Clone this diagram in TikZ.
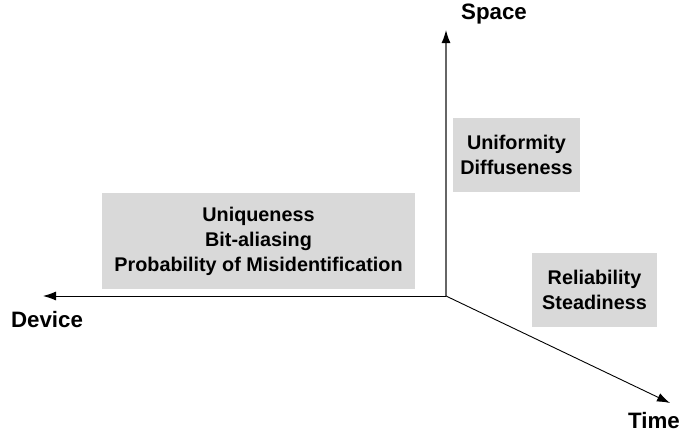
\documentclass[tikz,border=0pt]{standalone}
\usepackage{fontspec}
\setmainfont{Liberation Sans}
\usetikzlibrary{arrows.meta}

\begin{document}
\begin{tikzpicture}[x=1pt, y=-1pt,
                    every node/.style={inner sep=0pt},
                    axis/.style={line width=0.9pt,
                                 -{Latex[length=13pt,width=9pt,black]}},
                    axislabel/.style={font=\fontsize{22.3}{25}\bfseries\selectfont},
                    metric/.style={fill=black!15, align=center,
                                   font=\fontsize{19.8}{25}\bfseries\selectfont}]
  \useasboundingbox (0,0) rectangle (682,439);

  % origin and axis tips
  \coordinate (O) at (446,296);
  \coordinate (S) at (446,30);
  \coordinate (D) at (43,296);
  \coordinate (T) at (670,403);

  % metric boxes
  \node[metric, minimum width=313pt, minimum height=96pt] (dev) at (258.5,241)
    {Uniqueness\\Bit-aliasing\\Probability of Misidentification};
  \node[metric, minimum width=127pt, minimum height=74pt] (spc) at (516.5,155)
    {Uniformity\\Diffuseness};
  \node[metric, minimum width=125pt, minimum height=74pt] (tim) at (594.5,290)
    {Reliability\\Steadiness};

  % axes
  \draw[axis, draw=black!60, line width=1.3pt] (O) -- (S);
  \draw[axis] (O) -- (D);
  \draw[axis] (O) -- (T);

  \node[axislabel] (space) at (494,14) {Space};
  \node[axislabel] (device) at (47,319.5) {Device};
  \node[axislabel] (time) at (654,421) {Time};
\end{tikzpicture}
\end{document}
